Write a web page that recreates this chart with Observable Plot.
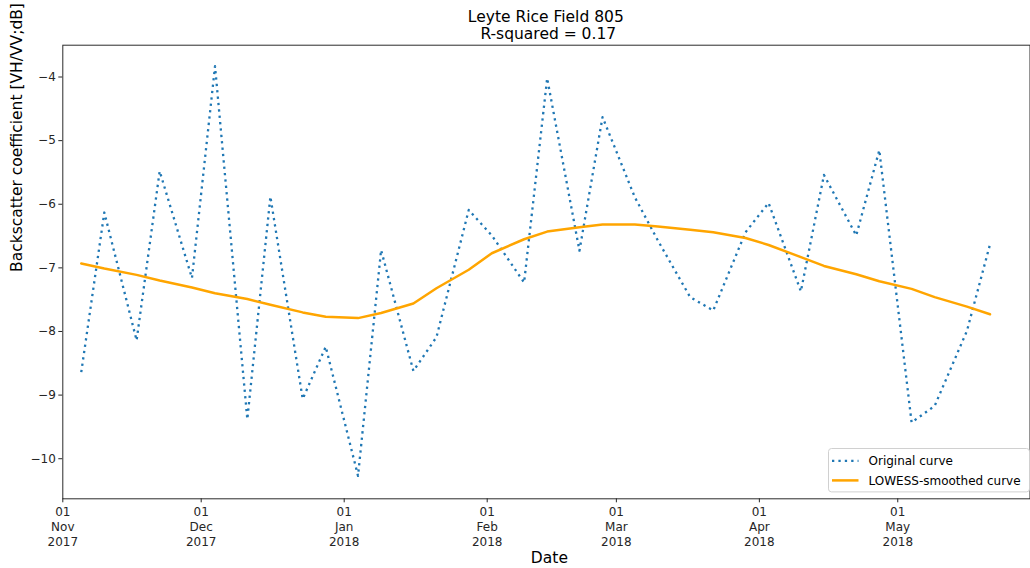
<!DOCTYPE html>
<html>
<head>
<meta charset="utf-8">
<script src="https://cdn.jsdelivr.net/npm/d3@7"></script>
<script src="https://cdn.jsdelivr.net/npm/@observablehq/plot@0.6"></script>
<style>
  body { margin: 0; background: #fff; }
  #wrap { position: relative; width: 1030px; height: 568px; font-family: "DejaVu Sans", sans-serif; background: #fff; }
  #title { position: absolute; top: 8.8px; left: 62.3px; width: 967px; text-align: center;
           font-size: 15.5px; line-height: 17px; color: #000; white-space: pre; z-index: 2; }
  #chart { position: absolute; left: 0; top: 0; }
  #legend { position: absolute; left: 827.8px; top: 447.8px; z-index: 3; }
</style>
</head>
<body>
<div id="wrap">
  <div id="title"></div>
  <div id="chart"></div>
  <div id="legend"></div>
</div>
<script>
// ---- data ----
const titleLines = ["Leyte Rice Field 805", " R-squared = 0.17"];
const xLabel = "Date";
const yLabel = "Backscatter coefficient [VH/VV;dB]";
const seriesNames = ["Original curve", "LOWESS-smoothed curve"];
const seriesColors = ["#1f77b4", "orange"];

const dates = ["2017-11-05","2017-11-10","2017-11-17","2017-11-22","2017-11-29","2017-12-04","2017-12-11","2017-12-16",
  "2017-12-23","2017-12-28","2018-01-04","2018-01-09","2018-01-16","2018-01-21","2018-01-28","2018-02-02",
  "2018-02-09","2018-02-14","2018-02-21","2018-02-26","2018-03-05","2018-03-10","2018-03-17","2018-03-22",
  "2018-03-29","2018-04-03","2018-04-10","2018-04-15","2018-04-22","2018-04-27","2018-05-04","2018-05-09",
  "2018-05-16","2018-05-21"];
const original = [-8.64,-6.13,-8.14,-5.48,-7.16,-3.83,-9.38,-5.88,-9.06,-8.24,-10.27,-6.72,-8.62,-8.09,-6.09,-6.49,
  -7.23,-4.02,-6.73,-4.63,-5.89,-6.57,-7.46,-7.67,-6.44,-5.98,-7.37,-5.54,-6.49,-5.15,-9.43,-9.17,-7.99,-6.63];
const lowess = [-6.93,-7.01,-7.11,-7.20,-7.31,-7.40,-7.49,-7.58,-7.70,-7.77,-7.79,-7.71,-7.56,-7.32,-7.03,-6.77,
  -6.55,-6.43,-6.36,-6.32,-6.32,-6.35,-6.40,-6.44,-6.53,-6.64,-6.83,-6.97,-7.10,-7.21,-7.33,-7.46,-7.61,-7.73];
const xTicks = ["2017-11-01","2017-12-01","2018-01-01","2018-02-01","2018-03-01","2018-04-01","2018-05-01"];
const yTicks = [-10, -9, -8, -7, -6, -5, -4];
const xDomain = ["2017-11-01T00:00:00Z", "2018-05-29T16:00:00Z"];
const yDomain = [-10.63, -3.5];

// ---- build ----
const data = dates.map((d, i) => ({date: new Date(d + "T00:00:00Z"), original: original[i], lowess: lowess[i]}));
const fmtD = d3.utcFormat("%d"), fmtB = d3.utcFormat("%b"), fmtY = d3.utcFormat("%Y");

document.getElementById("title").textContent = titleLines.join("\n");

const chart = Plot.plot({
  width: 1030,
  height: 568,
  marginTop: 44.7,
  marginBottom: 69.7,
  marginLeft: 62.3,
  marginRight: 0.5,
  style: {fontFamily: "DejaVu Sans", fontSize: "12px", color: "#262626", background: "transparent", overflow: "visible"},
  x: {type: "utc", domain: xDomain.map(d => new Date(d))},
  y: {domain: yDomain},
  marks: [
    Plot.axisX({
      ticks: xTicks.map(d => new Date(d + "T00:00:00Z")),
      tickFormat: d => `${fmtD(d)}\n${fmtB(d)}\n${fmtY(d)}`,
      tickSize: 4, tickPadding: 3, lineHeight: 1.25, fontSize: 12, label: null
    }),
    Plot.axisY({
      ticks: yTicks, tickFormat: d3.format("d"),
      tickSize: 4, tickPadding: 3, fontSize: 12, label: null
    }),
    Plot.line(data, {x: "date", y: "original", stroke: seriesColors[0], strokeWidth: 2.3,
      strokeDasharray: "2.3,4.1", strokeLinecap: "butt"}),
    Plot.line(data, {x: "date", y: "lowess", stroke: seriesColors[1], strokeWidth: 2.5}),
    Plot.frame({stroke: "#2b2b2b", strokeWidth: 1}),
    Plot.text([xLabel], {frameAnchor: "bottom", dy: 59.7, dx: 3, lineAnchor: "middle", fontSize: 15.5, fill: "#000"}),
    Plot.text([yLabel], {frameAnchor: "left", dx: -45.3, rotate: -90, lineAnchor: "middle", fontSize: 15.5, fill: "#000"})
  ]
});
document.getElementById("chart").append(chart);

// ---- legend ----
const ns = "http://www.w3.org/2000/svg";
const lg = document.createElementNS(ns, "svg");
lg.setAttribute("width", 203); lg.setAttribute("height", 45);
lg.style.fontFamily = "DejaVu Sans"; lg.style.fontSize = "12px";
const box = document.createElementNS(ns, "rect");
Object.entries({x: 0.5, y: 0.5, width: 201, height: 43.4, rx: 3, fill: "rgba(255,255,255,0.8)", stroke: "#d0d0d0"})
  .forEach(([k, v]) => box.setAttribute(k, v));
lg.append(box);
seriesNames.forEach((name, i) => {
  const base = 17 + i * 19.6;
  const ln = document.createElementNS(ns, "line");
  const attrs = {x1: 4, x2: 30.5, y1: base - 4.2, y2: base - 4.2, stroke: seriesColors[i], "stroke-width": i === 0 ? 2.3 : 2.5};
  if (i === 0) attrs["stroke-dasharray"] = "2.3,4.1";
  Object.entries(attrs).forEach(([k, v]) => ln.setAttribute(k, v));
  lg.append(ln);
  const t = document.createElementNS(ns, "text");
  t.setAttribute("x", 40.5); t.setAttribute("y", base); t.setAttribute("fill", "#000");
  t.textContent = name;
  lg.append(t);
});
document.getElementById("legend").append(lg);
</script>
</body>
</html>
